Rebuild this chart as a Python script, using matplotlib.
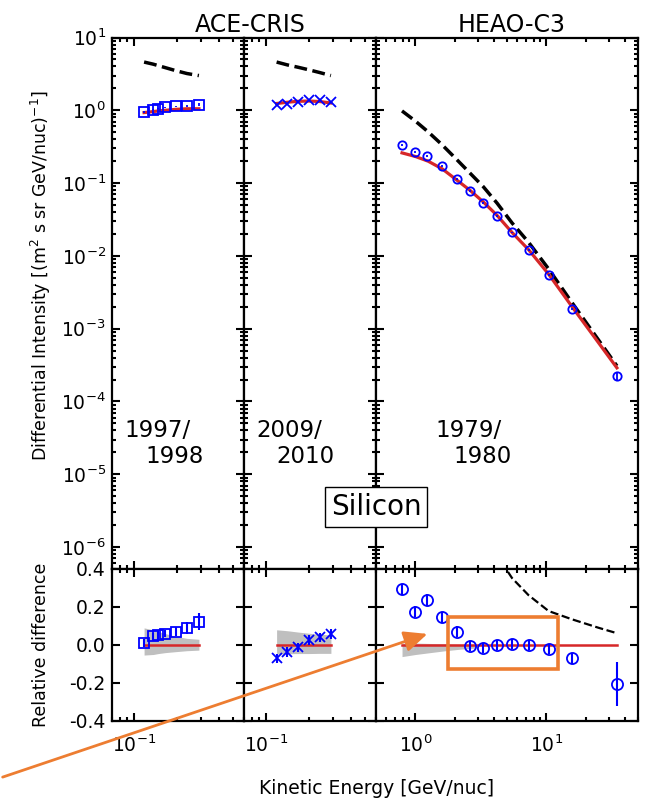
import numpy as np
import matplotlib
matplotlib.use('Agg')
import matplotlib.pyplot as plt
from matplotlib.ticker import LogLocator, NullFormatter
from matplotlib.patches import Rectangle, FancyArrowPatch

plt.rcParams['axes.unicode_minus'] = False

# ACE-CRIS, 1997/1998
ace1_E = [0.118, 0.137, 0.149, 0.167, 0.198, 0.237, 0.288]
ace1_flux = [0.95, 1.02, 1.05, 1.10, 1.13, 1.15, 1.19]
ace1_model = [0.93, 0.96, 0.98, 1.00, 1.03, 1.05, 1.05]
ace1_prev = [4.6, 4.3, 4.1, 3.85, 3.5, 3.2, 3.0]
ace1_rel = [0.01, 0.045, 0.052, 0.06, 0.07, 0.09, 0.123]
ace1_rel_err = [0.02, 0.02, 0.02, 0.02, 0.025, 0.03, 0.045]
ace1_band_lo = [-0.053, -0.05, -0.045, -0.04, -0.035, -0.03, -0.027]
ace1_band_hi = [0.09, 0.08, 0.07, 0.06, 0.045, 0.035, 0.03]

# ACE-CRIS, 2009/2010
ace2_E = [0.119, 0.142, 0.169, 0.201, 0.240, 0.288]
ace2_flux = [1.17, 1.23, 1.30, 1.37, 1.37, 1.32]
ace2_model = [1.24, 1.29, 1.33, 1.34, 1.32, 1.26]
ace2_prev = [4.6, 4.2, 3.9, 3.6, 3.3, 3.0]
ace2_rel = [-0.07, -0.038, -0.012, 0.026, 0.04, 0.058]
ace2_rel_err = [0.025, 0.025, 0.025, 0.025, 0.025, 0.025]
ace2_band_lo = [-0.047, -0.046, -0.045, -0.045, -0.044, -0.044]
ace2_band_hi = [0.08, 0.075, 0.068, 0.062, 0.057, 0.053]

# HEAO-C3, 1979/1980
heao_E = [0.79, 1.0, 1.23, 1.59, 2.07, 2.61, 3.29, 4.2, 5.46, 7.3, 10.4, 15.7, 34.5]
heao_flux = [0.33, 0.27, 0.237, 0.171, 0.113, 0.078, 0.053, 0.0353, 0.0211,
             0.0121, 0.00544, 0.00186, 2.27e-4]
heao_rel = [0.293, 0.175, 0.237, 0.146, 0.07, -0.005, -0.017, 0.0, 0.004,
            0.0, -0.02, -0.07, -0.205]
heao_rel_err = [0.03, 0.03, 0.03, 0.03, 0.03, 0.025, 0.025, 0.025, 0.025,
                0.025, 0.025, 0.03, 0.118]
heao_model_E = [0.79, 1.0, 1.25, 1.6, 2.07, 2.6, 3.3, 4.2, 5.46, 7.3, 10.4, 15.7, 25, 34.5]
heao_model = [0.26, 0.232, 0.2, 0.157, 0.11, 0.08, 0.055, 0.036, 0.021, 0.0122,
              0.0056, 0.002, 6.4e-4, 2.9e-4]
heao_prev = [0.98, 0.71, 0.506, 0.335, 0.21, 0.138, 0.089, 0.053, 0.0284, 0.0154,
             0.0066, 0.00227, 6.98e-4, 3.08e-4]
heao_band_E = [0.79, 1.0, 1.3, 1.7, 2.2, 2.9]
heao_band_lo = [-0.061, -0.05, -0.04, -0.03, -0.022, -0.016]
heao_band_hi = [0.01, 0.01, 0.008, 0.006, 0.004, 0.003]

flux_ticks = [1e-6, 1e-5, 1e-4, 1e-3, 1e-2, 1e-1, 1e0, 1e1]
rel_ticks = [-0.4, -0.2, 0.0, 0.2, 0.4]

RED = '#d62728'
ORANGE = '#ed7d31'
W, H = 651, 802

fig = plt.figure(figsize=(6.51, 8.02), dpi=100)

# panel edges in pixels
cols = [(112, 244), (244, 376), (376, 638)]
top_px, mid_px, bot_px = 37.5, 569, 721


def px_axes(x0, x1, y0, y1, **kw):
    return fig.add_axes([x0 / W, 1 - y1 / H, (x1 - x0) / W, (y1 - y0) / H], **kw)


top_axes, bot_axes = [], []
for x0, x1 in cols:
    at = px_axes(x0, x1, top_px, mid_px)
    ab = px_axes(x0, x1, mid_px, bot_px, sharex=at)
    top_axes.append(at)
    bot_axes.append(ab)


def plot_top(ax, E, flux, err, marker, model_E, model, prev, ms):
    ax.errorbar(E, flux, yerr=np.array(flux) * np.array(err), fmt=marker, ms=ms,
                mfc='none', mec='b', mew=1.3, ecolor='b', elinewidth=1.3, zorder=4)
    ax.plot(model_E, model, color=RED, lw=2.3, zorder=3)
    ax.plot(model_E, prev, color='k', ls='--', lw=2.5, zorder=2)


def plot_bot(ax, E, rel, err, marker, model_E, model, prev, band_E, lo, hi, ms):
    ax.fill_between(band_E, lo, hi, color='0.75', lw=0, zorder=1)
    ax.plot(model_E, np.zeros(len(model_E)), color=RED, lw=1.8, zorder=2)
    ax.plot(model_E, np.array(prev) / np.array(model) - 1, color='k', ls='--', lw=1.6, zorder=2)
    ax.errorbar(E, rel, yerr=err, fmt=marker, ms=ms, mfc='none', mec='b', mew=1.3,
                ecolor='b', elinewidth=1.5, zorder=4)


plot_top(top_axes[0], ace1_E, ace1_flux, ace1_rel_err, 's', ace1_E, ace1_model, ace1_prev, 6.5)
plot_top(top_axes[1], ace2_E, ace2_flux, ace2_rel_err, 'x', ace2_E, ace2_model, ace2_prev, 7)
plot_top(top_axes[2], heao_E, heao_flux, heao_rel_err, 'o', heao_model_E, heao_model, heao_prev, 6)

plot_bot(bot_axes[0], ace1_E, ace1_rel, ace1_rel_err, 's', ace1_E, ace1_model, ace1_prev,
         ace1_E, ace1_band_lo, ace1_band_hi, 6.5)
plot_bot(bot_axes[1], ace2_E, ace2_rel, ace2_rel_err, 'x', ace2_E, ace2_model, ace2_prev,
         ace2_E, ace2_band_lo, ace2_band_hi, 7)
plot_bot(bot_axes[2], heao_E, heao_rel, heao_rel_err, 'o', heao_model_E, heao_model, heao_prev,
         heao_band_E, heao_band_lo, heao_band_hi, 8)

xlims = [(0.07, 0.6), (0.07, 0.6), (0.5, 50)]
for i in range(3):
    at, ab = top_axes[i], bot_axes[i]
    at.set_xscale('log')
    at.set_xlim(*xlims[i])
    at.set_yscale('log')
    at.set_yticks(flux_ticks)
    at.yaxis.set_minor_locator(LogLocator(base=10, subs=np.arange(2, 10), numticks=20))
    at.yaxis.set_minor_formatter(NullFormatter())
    at.set_ylim(5e-7, 10)
    ab.set_yticks(rel_ticks)
    ab.set_ylim(-0.4, 0.4)
    for ax in (at, ab):
        ax.xaxis.set_minor_formatter(NullFormatter())
        ax.tick_params(which='both', direction='in', top=True, right=True, width=1.5,
                       labelsize=13.5)
        ax.tick_params(which='major', length=6)
        ax.tick_params(which='minor', length=3)
        ax.tick_params(axis='x', pad=10)
        ax.tick_params(axis='y', pad=4.5)
        for s in ax.spines.values():
            s.set_linewidth(1.6)
    at.tick_params(labelbottom=False)
    if i > 0:
        at.tick_params(labelleft=False)
        ab.tick_params(labelleft=False)

# season labels
years = [('1997/', '1998', 0.098, 0.25), ('2009/', '2010', 0.096, 0.242),
         ('1979/', '1980', 0.225, 0.295)]
for ax, (y1, y2, x1, x2) in zip(top_axes, years):
    ax.text(x1, 0.249, y1, transform=ax.transAxes, fontsize=16.5, va='baseline')
    ax.text(x2, 0.2, y2, transform=ax.transAxes, fontsize=16.5, va='baseline')

fig.text(250 / W, 1 - 31.7 / H, 'ACE-CRIS', fontsize=17, ha='center', va='baseline')
fig.text(512 / W, 1 - 31.7 / H, 'HEAO-C3', fontsize=17, ha='center', va='baseline')

fig.text(41 / W, 1 - 276 / H, r'Differential Intensity [(m$^2$ s sr GeV/nuc)$^{-1}$]',
         fontsize=12.5, rotation=90, ha='center', va='center')
fig.text(41 / W, 1 - 645 / H, 'Relative difference', fontsize=12.5, rotation=90,
         ha='center', va='center')
fig.text(377 / W, 1 - 789 / H, 'Kinetic Energy [GeV/nuc]', fontsize=13.5,
         ha='center', va='center')

fig.text(376 / W, 1 - 507 / H, 'Silicon', fontsize=20, ha='center', va='center',
         bbox=dict(boxstyle='square,pad=0.22', fc='white', ec='black', lw=1), zorder=5)

# highlight of the 2-12 GeV/nuc range
box = Rectangle((1.78, -0.125), 12.3 - 1.78, 0.273, fill=False, ec=ORANGE, lw=2.6,
                clip_on=False, zorder=6)
bot_axes[2].add_patch(box)

arrow = FancyArrowPatch((0.0, 1 - 778 / H), (430 / W, 1 - 633 / H),
                        transform=fig.transFigure, arrowstyle='-|>,head_length=1.0,head_width=0.45',
                        mutation_scale=14, color=ORANGE, lw=2, zorder=6)
fig.add_artist(arrow)

fig.savefig('out.png', dpi=100)
